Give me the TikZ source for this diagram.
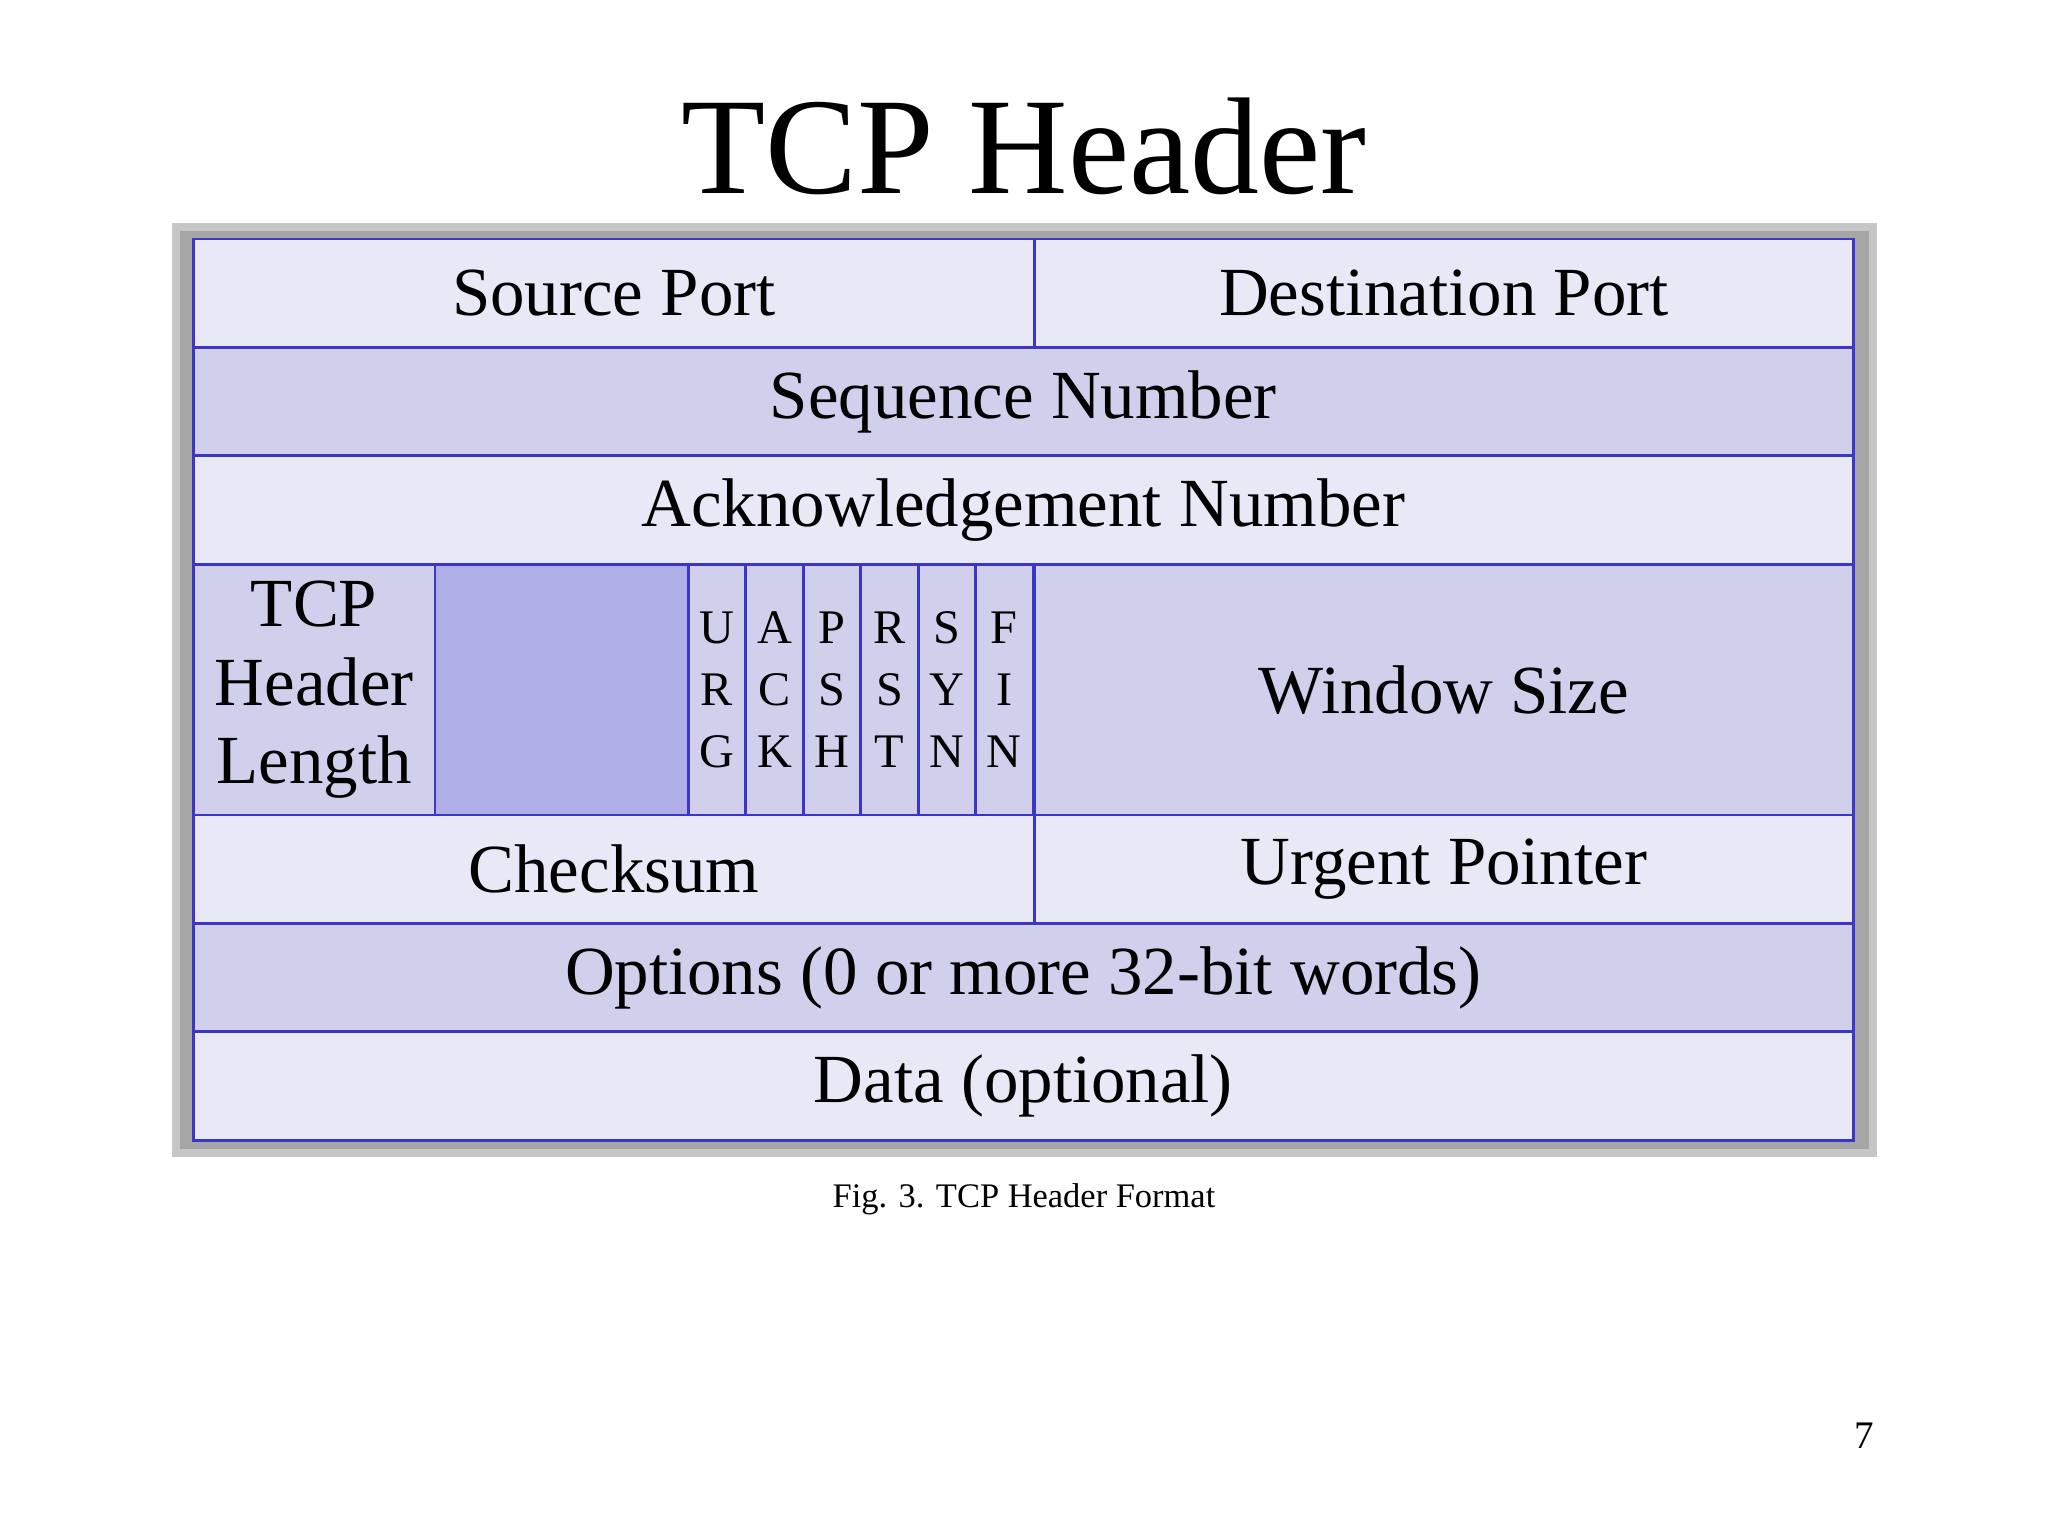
\documentclass[tikz,border=0pt]{standalone}
\usepackage{fontspec}
\setmainfont{Liberation Serif}
\definecolor{lite}{HTML}{E8E8F6}
\definecolor{mid}{HTML}{D0D0EC}
\definecolor{resv}{HTML}{B0AEE6}
\definecolor{edge}{HTML}{3A36C8}
\tikzset{
  lt/.style={draw=edge,fill=lite,line width=0.6pt},
  md/.style={draw=edge,fill=mid,line width=0.6pt},
  lab/.style={font=\fontsize{15}{17}\selectfont},
  flag/.style={font=\fontsize{10.5}{13.5}\selectfont,align=center}
}
\begin{document}
\begin{tikzpicture}[x=0.01cm,y=-0.01cm]
  \useasboundingbox (0,0) rectangle (1568,1176);
% title
  \node[font=\fontsize{30}{34}\selectfont] (title) at (784,112) {TCP Header};
% frame shadow
  \fill[gray!45] (132,171) rectangle (1437,886);
  \fill[gray!70] (138,177) rectangle (1431,880);
% rows
  \draw[lt] (148,183) rectangle (792,266) node[midway,lab] (src) {Source Port};
  \draw[lt] (792,183) rectangle (1419,266) node[midway,lab] (dst) {Destination Port};
  \draw[md] (148,266) rectangle (1419,349) node[midway,lab] (seq) {Sequence Number};
  \draw[lt] (148,349) rectangle (1419,432) node[midway,lab] (ack) {Acknowledgement Number};
  \draw[md] (148,432) rectangle (333,624) node[midway,lab,align=center] (hlen) {TCP\\Header\\Length};
  \draw[draw=edge,fill=resv,line width=0.6pt] (333,432) rectangle (527,624);
  \foreach \a/\b/\c [count=\i from 0] in {U/R/G,A/C/K,P/S/H,R/S/T,S/Y/N,F/I/N}
    \draw[md] (527+44*\i,432) rectangle (571+44*\i,624)
      node[midway,flag] {\a\\\b\\\c};
  \draw[md] (792,432) rectangle (1419,624) node[midway,lab] (win) {Window Size};
  \draw[lt] (148,624) rectangle (792,707) node[midway,lab] (chk) {Checksum};
  \draw[lt] (792,624) rectangle (1419,707) node[midway,lab] (urg) {Urgent Pointer};
  \draw[md] (148,707) rectangle (1419,790) node[midway,lab] (opt) {Options (0 or more 32-bit words)};
  \draw[lt] (148,790) rectangle (1419,873) node[midway,lab] (data) {Data (optional)};
% caption and page number
  \node[font=\fontsize{7.5}{9}\selectfont] (cap) at (784,918) {Fig. 3. TCP Header Format};
  \node[font=\fontsize{8.5}{10}\selectfont] (page) at (1427,1099) {7};
\end{tikzpicture}
\end{document}
